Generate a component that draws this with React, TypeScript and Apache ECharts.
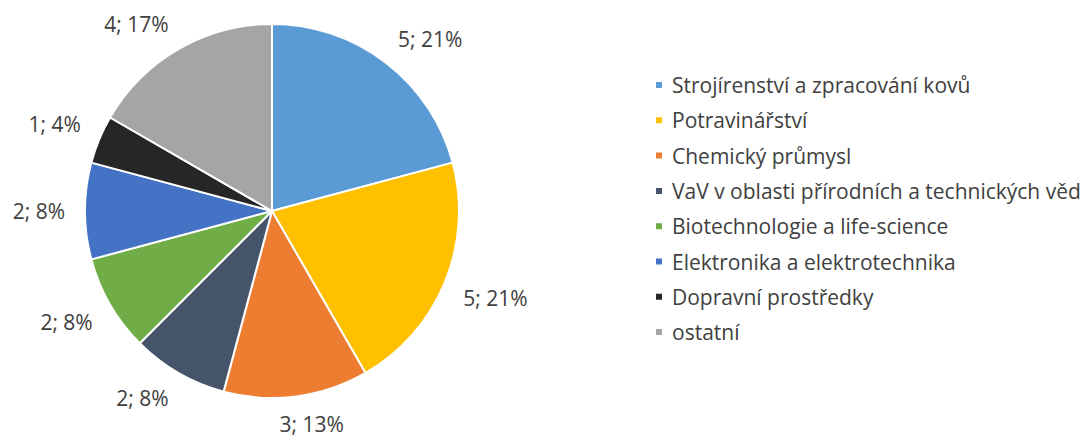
import React, { useEffect, useRef } from "react";
import * as echarts from "echarts";

const categories = [
  "Strojírenství a zpracování kovů",
  "Potravinářství",
  "Chemický průmysl",
  "VaV v oblasti přírodních a technických věd",
  "Biotechnologie a life-science",
  "Elektronika a elektrotechnika",
  "Dopravní prostředky",
  "ostatní",
];
const values = [5, 5, 3, 2, 2, 2, 1, 4];
const colors = ["#5B9BD5", "#FFC000", "#ED7D31", "#44546A", "#70AD47", "#4472C4", "#262626", "#A5A5A5"];

const FONT = "'Open Sans', sans-serif";
const GAP = 20;

const clamp = (v: number) => Math.max(-1, Math.min(1, v));

export default function App() {
  const ref = useRef<HTMLDivElement>(null);
  useEffect(() => {
    if (!ref.current) return;
    const chart = echarts.init(ref.current, undefined, { renderer: "svg" });
    chart.setOption({
      animation: false,
      color: colors,
      legend: {
        orient: "vertical",
        left: 654,
        top: 74,
        padding: 0,
        icon: "rect",
        itemWidth: 8,
        itemHeight: 8,
        itemGap: 13.3,
        textStyle: { fontFamily: FONT, fontSize: 21, color: "#404040", lineHeight: 22, padding: [0, 0, 0, 4] },
        data: categories,
      },
      series: [
        {
          type: "pie",
          center: [272, 211],
          radius: 187,
          startAngle: 90,
          clockwise: true,
          percentPrecision: 0,
          avoidLabelOverlap: false,
          itemStyle: { borderColor: "#ffffff", borderWidth: 2 },
          label: {
            show: true,
            position: "outside",
            formatter: "{c}; {d}%",
            fontFamily: FONT,
            fontSize: 21,
            color: "#404040",
          },
          labelLine: { show: false, length: 15, length2: 4 },
          labelLayout: (params: any) => {
            const pts = params.labelLinePoints;
            if (!pts || pts.length < 2) return {};
            const dx0 = pts[1][0] - pts[0][0];
            const dy0 = pts[1][1] - pts[0][1];
            const len = Math.hypot(dx0, dy0) || 1;
            const ux = dx0 / len;
            const uy = dy0 / len;
            const w = params.labelRect.width / 2;
            const h = params.labelRect.height * 0.36;
            const ax = pts[0][0] + ux * GAP;
            const ay = pts[0][1] + uy * GAP;
            return {
              x: ax + w * clamp(ux * 3),
              y: ay + h * clamp(uy * 3),
              align: "center",
              verticalAlign: "middle",
            };
          },
          emphasis: { disabled: true },
          data: categories.map((name, i) => ({ name, value: values[i] })),
        },
      ],
    });
    return () => chart.dispose();
  }, []);
  return (
    <div
      ref={ref}
      style={{ position: "fixed", left: 0, top: 0, width: 1088, height: 438, background: "#ffffff" }}
    />
  );
}
